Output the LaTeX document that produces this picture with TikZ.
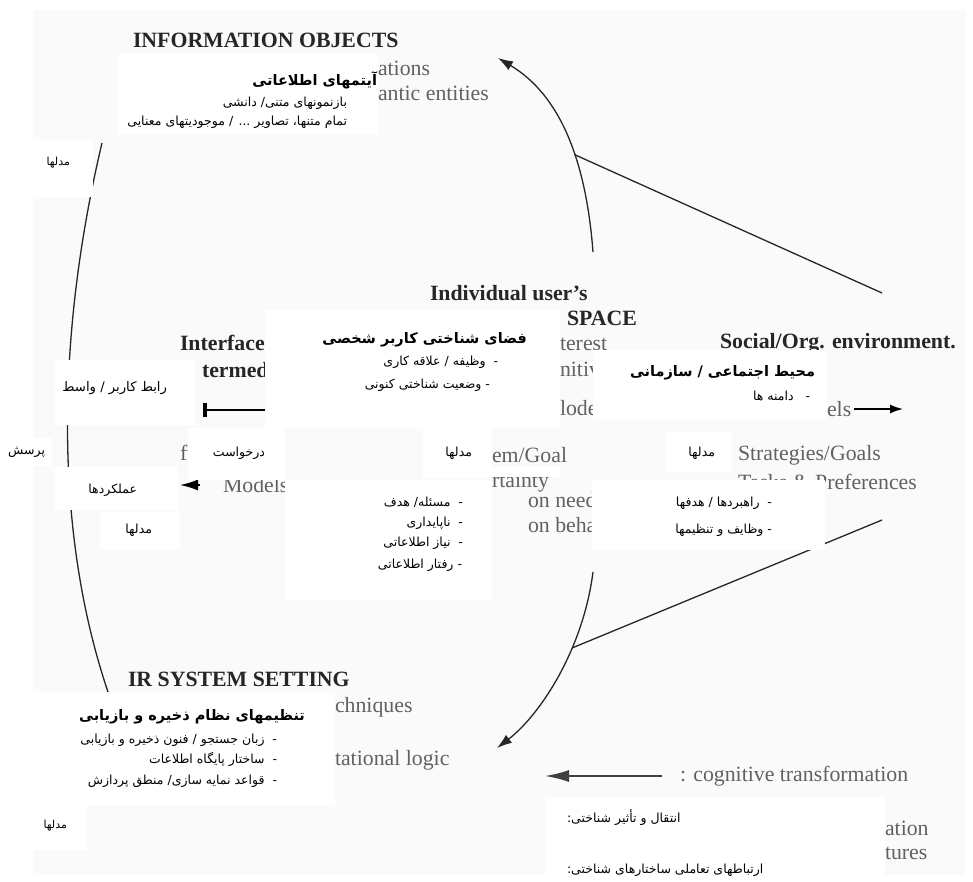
\documentclass[tikz,border=0pt]{standalone}
\usepackage{fontspec}
\setmainfont{Liberation Serif}
\newfontfamily\arabicfont[Script=Arabic]{DejaVu Sans}
\TeXXeTstate=1
\usetikzlibrary{arrows.meta,positioning}
\newcommand{\fa}[1]{\beginR #1\endR}
\newcommand{\plotCover}[4]{\fill[cover] (#1,#2) rectangle (#3,#4);}

\begin{document}
\begin{tikzpicture}[x=1pt,y=-1pt,
	every node/.style={inner sep=0pt,outer sep=0pt},
	enb/.style={anchor=west,font=\fontsize{21.8}{24}\selectfont\bfseries,text=black!85},
	enr/.style={anchor=west,font=\fontsize{21.8}{24}\selectfont,text=black!62},
	fat/.style={anchor=east,font=\arabicfont\bfseries\fontsize{14.5}{17}\selectfont},
	fai/.style={anchor=east,font=\arabicfont\fontsize{12.5}{15}\selectfont},
	fas/.style={anchor=east,font=\arabicfont\fontsize{11}{13}\selectfont},
	cover/.style={fill=white},
	flow/.style={line width=1.3pt,black!85},
	tip/.style={-{Latex[length=15pt,width=10pt]}}]

\useasboundingbox (0,0) rectangle (973,881);
\fill[black!2] (33,10) rectangle (965,875);

% english figure underneath
\node[enb] (infoObj)   at (133,40)  {INFORMATION OBJECTS};
\node[enr] (infoRep)   at (378,68)  {ations};
\node[enr] (infoSem)   at (378,93)  {antic entities};
\node[enb] (userInd)   at (430,293) {Individual user's};
\node[enb] (userSpace) at (567,318) {SPACE};
\node[enr] (userWork)  at (560,344) {terest};
\node[enr] (userCog)   at (560,369) {nitive};
\node[enr] (userMod)   at (560,408) {lodel};
\node[enr] (userProb)  at (492,455) {em/Goal};
\node[enr] (userUnc)   at (492,483) {rtainty};
\node[enr] (userNeed)  at (528,500) {on need};
\node[enr] (userBeh)   at (528,525) {on behav};
\node[enb] (socEnv)    at (720,343) {Social/Org. environment.};
\node[enr] (socMod)    at (827,409) {els};
\node[enr] (socStrat)  at (738,455) {Strategies/Goals};
\node[enr] (socTask)   at (738,482) {Tasks \& Preferences};
\node[enb] (intIf)     at (180,343) {Interface};
\node[enb] (intMed)    at (202,370) {termed};
\node[enr] (intFun)    at (180,453) {fu};
\node[enr] (intMod)    at (223,485) {Models};
\node[enb] (irSet)     at (128,679) {IR SYSTEM SETTING};
\node[enr] (irTech)    at (335,707) {chniques};
\node[enr] (irLogic)   at (335,760) {tational logic};
\node[enr] (legTrans)  at (680,776) {: cognitive transformation};
\node[enr] (legComA)   at (885,828) {ation};
\node[enr] (legComB)   at (885,853) {tures};

\coordinate (tBot)   at (593,252);
\coordinate (tTip)   at (498,58);
\coordinate (tMid)   at (574.5,154.6);
\coordinate (socTop) at (882,293);
\coordinate (bTop)   at (593,572);
\coordinate (bTip)   at (497,748);
\coordinate (bMid)   at (572,648);
\coordinate (socBot) at (882,520);
\coordinate (arcTop) at (102,143);
\coordinate (arcBot) at (108,692);
\coordinate (socArr) at (903,409);
\coordinate (intBar) at (203,410);
\coordinate (intBarE) at (265,410);
\coordinate (intArr) at (180,485);
\coordinate (legArr) at (545,776);
\coordinate (legArrS) at (662,776);

\draw[flow,tip] (tBot) .. controls (586,160) and (560,95) .. (tTip);
\draw[flow] (tMid) -- (socTop);
\draw[flow,tip] (bTop) .. controls (583,650) and (540,715) .. (bTip);
\draw[flow] (socBot) -- (bMid);
\draw[flow] (arcTop) .. controls (60,320) and (50,520) .. (arcBot);

\draw[line width=1.6pt,-{Latex[length=13pt,width=9pt]}] ([xshift=3pt]socMod.east) -- (socArr);
\draw[line width=1.6pt,{Bar[width=14pt,line width=4pt]}-] (intBar) -- (intBarE);
\draw[line width=1.6pt,-{Latex[length=18pt,width=11pt]}] ([xshift=20pt]intArr) -- (intArr);
\draw[line width=1.8pt,black!75,-{Latex[length=24pt,width=12pt]}] (legArrS) -- (legArr);

% persian boxes on top
\plotCover{118}{53}{378}{135}
\plotCover{33}{140}{93}{197}
\plotCover{55}{360}{195}{425}
\plotCover{0}{438}{52}{466}
\plotCover{188}{428}{285}{480}
\plotCover{55}{467}{178}{510}
\plotCover{100}{512}{180}{550}
\plotCover{265}{310}{560}{428}
\plotCover{423}{428}{492}{478}
\plotCover{492}{467}{560}{477}
\plotCover{285}{480}{492}{600}
\plotCover{593}{350}{827}{420}
\plotCover{665}{432}{732}{472}
\plotCover{592}{480}{825}{550}
\plotCover{33}{692}{335}{805}
\plotCover{30}{805}{87}{850}
\plotCover{545}{797}{885}{881}

\node[fat] (faInfo)   at (377,80)  {\fa{آیتمهای اطلاعاتی}};
\node[fai] (faInfoA)  at (347,103) {\fa{بازنمونهای متنی/ دانشی}};
\node[fai] (faInfoB)  at (347,122) {\fa{تمام متنها، تصاویر ... / موجودیتهای معنایی}};
\node[fas] (faModA)   at (70,163)  {\fa{مدلها}};

\node[fai,font=\arabicfont\fontsize{13.2}{16}\selectfont] (faIntf) at (167,388) {\fa{رابط کاربر / واسط}};
\node[fai] (faQuery)  at (45,452)  {\fa{پرسش}};
\node[fai] (faReq)    at (265,453) {\fa{درخواست}};
\node[fai] (faFunc)   at (137,490) {\fa{عملکردها}};
\node[fai] (faModB)   at (152,530) {\fa{مدلها}};

\node[fat] (faCog)    at (527,340) {\fa{فضای شناختی کاربر شخصی}};
\node[fai] (faCogA)   at (498,362) {\fa{-~~وظیفه / علاقه کاری}};
\node[fai] (faCogB)   at (490,385) {\fa{- وضعیت شناختی کنونی}};
\node[fai] (faModC)   at (472,453) {\fa{مدلها}};
\node[fai] (faCogC)   at (463,502) {\fa{-~~مسئله/ هدف}};
\node[fai] (faCogD)   at (463,523) {\fa{-~~ناپایداری}};
\node[fai] (faCogE)   at (463,543) {\fa{-~~نیاز اطلاعاتی}};
\node[fai] (faCogF)   at (462,565) {\fa{- رفتار اطلاعاتی}};

\node[fat] (faSoc)    at (815,373) {\fa{محیط اجتماعی / سازمانی}};
\node[fai] (faSocA)   at (810,396) {\fa{-~~~دامنه ها}};
\node[fai] (faModD)   at (715,453) {\fa{مدلها}};
\node[fai] (faSocB)   at (772,503) {\fa{-~~راهبردها / هدفها}};
\node[fai] (faSocC)   at (772,530) {\fa{- وظایف و تنظیمها}};

\node[fat] (faIr)     at (305,717) {\fa{تنظیمهای نظام ذخیره و بازیابی}};
\node[fai] (faIrA)    at (277,740) {\fa{-~~زبان جستجو / فنون ذخیره و بازیابی}};
\node[fai] (faIrB)    at (277,759) {\fa{-~~ساختار پایگاه اطلاعات}};
\node[fai] (faIrC)    at (277,781) {\fa{-~~قواعد نمایه سازی/ منطق پردازش}};
\node[fas] (faModE)   at (67,826)  {\fa{مدلها}};

\node[fai,anchor=west] (faLegA) at (567,818) {\fa{انتقال و تأثیر شناختی:}};
\node[fai,anchor=west] (faLegB) at (567,870) {\fa{ارتباطهای تعاملی ساختارهای شناختی:}};
\end{tikzpicture}
\end{document}
